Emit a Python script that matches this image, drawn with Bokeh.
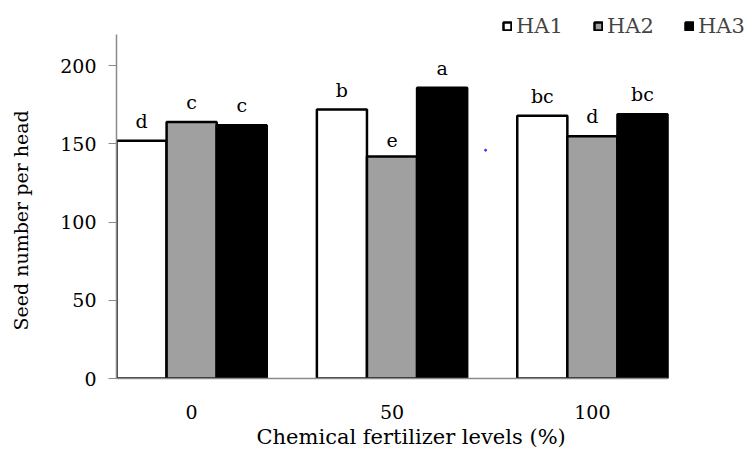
from bokeh.plotting import figure
from bokeh.models import Legend, LegendItem, FixedTicker, ColumnDataSource, Range1d, Title
from bokeh.core.properties import value
from bokeh.embed import file_html
from bokeh.resources import INLINE

levels = ["0", "50", "100"]
series = ["HA1", "HA2", "HA3"]
ha1 = [152, 172, 168]
ha2 = [164, 142, 155]
ha3 = [162, 186, 169]
letters_ha1 = ["d", "b", "bc"]
letters_ha2 = ["c", "e", "d"]
letters_ha3 = ["c", "a", "bc"]
y_ticks = [0, 50, 100, 150, 200]
y_axis_max = 220
stray_dot_x = [1.467]
stray_dot_y = [146]

SERIF = "DejaVu Serif"
FS = "19px"

x_lo, x_hi = -0.375, 2.375
p = figure(width=753, height=454, output_backend="svg", toolbar_location=None,
           x_range=Range1d(x_lo, 2.804), y_range=Range1d(0, 241.75),
           min_border_left=116, min_border_right=0, min_border_top=0, min_border_bottom=76)
p.grid.visible = False
p.outline_line_color = None

fills = ["white", "#a0a0a0", "black"]
offsets = [-0.25, 0.0, 0.25]
vals = [ha1, ha2, ha3]
letters = [letters_ha1, letters_ha2, letters_ha3]
items = []
for name, v, lab, off, fc in zip(series, vals, letters, offsets, fills):
    xs = [i + off for i in range(len(levels))]
    src = ColumnDataSource(dict(x=xs, top=v, lab=lab))
    r = p.vbar(x="x", top="top", width=0.25, source=src, fill_color=fc,
               line_color="black", line_width=2.5)
    p.text(x="x", y="top", text="lab", source=src, text_align="center",
           text_baseline="bottom", y_offset=-9, text_font=value(SERIF),
           text_font_size=FS, text_color="black")
    items.append(LegendItem(label=name, renderers=[r]))

p.scatter(x=stray_dot_x, y=stray_dot_y, size=2, color="#3030ff")

legend = Legend(items=items, orientation="horizontal", location=(386, 340),
                glyph_width=10, glyph_height=10, label_standoff=4, spacing=8,
                padding=0, margin=0, border_line_color=None,
                background_fill_alpha=0, label_text_font=SERIF,
                label_text_font_size="21px", label_height=20, label_width=69)
p.add_layout(legend, "center")

p.xaxis.ticker = FixedTicker(ticks=[0, 1, 2])
p.xaxis.major_label_overrides = {i: s for i, s in enumerate(levels)}
p.xaxis.minor_tick_line_color = None
p.xaxis.major_label_standoff = 20
p.xaxis.bounds = (x_lo, x_hi)

p.yaxis.ticker = FixedTicker(ticks=y_ticks)
p.yaxis.minor_tick_line_color = None
p.yaxis.major_tick_out = 8
p.yaxis.major_tick_in = 0
p.yaxis.major_label_standoff = 12
p.yaxis.bounds = (0, y_axis_max)
# blank spacer label to push the outer title further left
p.yaxis.axis_label = " "
p.yaxis.axis_label_text_font_size = "14px"
p.yaxis.axis_label_standoff = 2

for ax in (p.xaxis, p.yaxis):
    ax.axis_line_color = "#8a8a8a"
    ax.axis_line_width = 1.5
    ax.major_label_text_font = SERIF
    ax.major_label_text_font_size = FS
    ax.major_label_text_color = "black"
p.xaxis.major_tick_line_color = None
p.yaxis.major_tick_line_color = "#8a8a8a"

xt = Title(text="Chemical fertilizer levels (%)", align="left", offset=140,
           text_font=SERIF, text_font_size="21px", text_font_style="normal",
           text_color="black", standoff=3)
p.add_layout(xt, "below")
yt = Title(text="Seed number per head", align="left", offset=48,
           text_font=SERIF, text_font_size="19px", text_font_style="normal",
           text_color="black", standoff=10)
p.add_layout(yt, "left")

open("out.html", "w").write(file_html(p, INLINE))
